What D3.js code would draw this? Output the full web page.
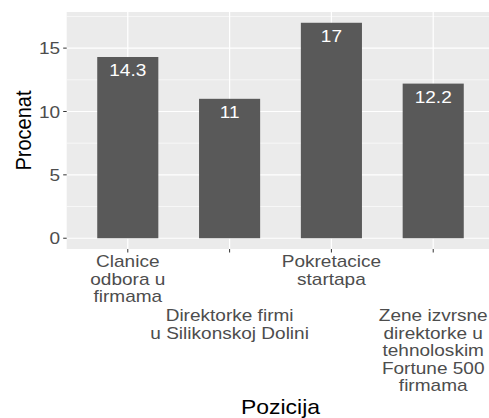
<!DOCTYPE html>
<html>
<head>
<meta charset="utf-8">
<script src="https://cdn.jsdelivr.net/npm/d3@7"></script>
<style>
  html, body { margin: 0; padding: 0; background: #fff; }
  svg { display: block; font-family: "Liberation Sans", Arial, Helvetica, sans-serif; }
</style>
</head>
<body>
<svg id="chart" width="489" height="418"></svg>
<script>
const categories = [
  "Clanice\nodbora u\nfirmama",
  "Direktorke firmi\nu Silikonskoj Dolini",
  "Pokretacice\nstartapa",
  "Zene izvrsne\ndirektorke u\ntehnoloskim\nFortune 500\nfirmama"
];
const values = [14.3, 11, 17, 12.2];
const valueLabels = ["14.3", "11", "17", "12.2"];
const yTicks = [0, 5, 10, 15];
const yMinor = [2.5, 7.5, 12.5, 17.5];
const xTitle = "Pozicija";
const yTitle = "Procenat";

const svg = d3.select("#chart");
const SX = 1.12; // horizontal glyph stretch of the reference
const panel = { left: 66.7, right: 494.3, top: 12, bottom: 249 };

const yMax = d3.max(values);
const y = d3.scaleLinear()
  .domain([-0.05 * yMax, yMax * 1.05])
  .range([panel.bottom, panel.top]);

const x = d3.scalePoint()
  .domain(categories)
  .range([panel.left, panel.right])
  .padding(0.6);
const barW = x.step() * 0.6;

const g = svg.append("g");
// panel background
g.append("rect")
  .attr("x", panel.left).attr("y", panel.top)
  .attr("width", panel.right - panel.left)
  .attr("height", panel.bottom - panel.top)
  .attr("fill", "#EBEBEB");

// minor grid
g.selectAll(".ymin").data(yMinor.filter(v => y(v) >= panel.top)).join("line")
  .attr("x1", panel.left).attr("x2", panel.right)
  .attr("y1", d => y(d)).attr("y2", d => y(d))
  .attr("stroke", "#fff").attr("stroke-width", 0.6);
// major grid
g.selectAll(".ymaj").data(yTicks).join("line")
  .attr("x1", panel.left).attr("x2", panel.right)
  .attr("y1", d => y(d)).attr("y2", d => y(d))
  .attr("stroke", "#fff").attr("stroke-width", 1.2);
g.selectAll(".xmaj").data(categories).join("line")
  .attr("x1", d => x(d)).attr("x2", d => x(d))
  .attr("y1", panel.top).attr("y2", panel.bottom)
  .attr("stroke", "#fff").attr("stroke-width", 1.2);

// bars
g.selectAll(".bar").data(categories).join("rect")
  .attr("x", d => x(d) - barW / 2)
  .attr("width", barW)
  .attr("y", (d, i) => y(values[i]))
  .attr("height", (d, i) => y(0) - y(values[i]))
  .attr("fill", "#595959");

// bar labels
g.selectAll(".lbl").data(categories).join("text")
  .attr("transform", (d, i) => `translate(${x(d)},${y(values[i]) + 19.3}) scale(${SX},1)`)
  .attr("text-anchor", "middle")
  .attr("font-size", 17)
  .attr("fill", "#fff")
  .text((d, i) => valueLabels[i]);

// y axis ticks + labels
g.selectAll(".yt").data(yTicks).join("line")
  .attr("x1", panel.left - 3.5).attr("x2", panel.left)
  .attr("y1", d => y(d)).attr("y2", d => y(d))
  .attr("stroke", "#333").attr("stroke-width", 1);
g.selectAll(".ytl").data(yTicks).join("text")
  .attr("transform", d => `translate(${panel.left - 6.5},${y(d) + 6.1}) scale(${SX},1)`)
  .attr("text-anchor", "end")
  .attr("font-size", 17)
  .attr("fill", "#4D4D4D")
  .text(d => d);

// x axis ticks
g.selectAll(".xt").data(categories).join("line")
  .attr("x1", d => x(d)).attr("x2", d => x(d))
  .attr("y1", panel.bottom).attr("y2", panel.bottom + 3.5)
  .attr("stroke", "#333").attr("stroke-width", 1);

// x tick labels, dodged into two rows
const lineH = 17.6;
const row1Base = 267.3;
const row2Base = 321;
categories.forEach((c, i) => {
  const lines = c.split("\n");
  const base = i % 2 === 0 ? row1Base : row2Base;
  const t = g.append("text")
    .attr("transform", `translate(${x(c)},${base}) scale(${SX},1)`)
    .attr("text-anchor", "middle")
    .attr("font-size", 17)
    .attr("fill", "#4D4D4D");
  lines.forEach((ln, k) => {
    t.append("tspan").attr("x", 0).attr("y", k * lineH).text(ln);
  });
});

// axis titles
svg.append("text")
  .attr("transform", `translate(${(panel.left + panel.right) / 2},413.5) scale(${SX},1)`)
  .attr("text-anchor", "middle")
  .attr("font-size", 20.5)
  .attr("fill", "#000")
  .text(xTitle);
svg.append("text")
  .attr("transform", `translate(31,${(panel.top + panel.bottom) / 2}) scale(${SX},1) rotate(-90)`)
  .attr("text-anchor", "middle")
  .attr("font-size", 20)
  .attr("fill", "#000")
  .text(yTitle);
</script>
</body>
</html>
